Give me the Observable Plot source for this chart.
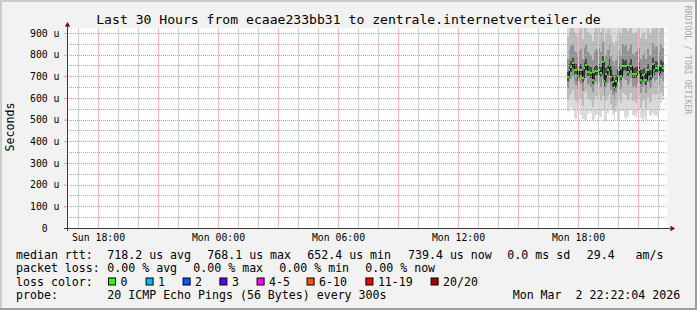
<!DOCTYPE html>
<html><head><meta charset="utf-8">
<script src="https://cdn.jsdelivr.net/npm/d3@7"></script>
<script src="https://cdn.jsdelivr.net/npm/@observablehq/plot@0.6"></script>
<style>
html,body{margin:0;padding:0;background:#f2f2f2;}
#wrap{position:relative;width:697px;height:310px;background:#f2f2f2;overflow:hidden;}
#wrap svg{position:absolute;left:0;top:0;}
</style></head><body><div id="wrap"></div>
<script>
// ---------- texts ----------
const title = "Last 30 Hours from ecaae233bb31 to zentrale.internetverteiler.de";
const yLabel = "Seconds";
const watermark = "RRDTOOL / TOBI OETIKER";

// ---------- axes ----------
const xDomainHours = [16.45, 46.45];           // hours since Sun 00:00 (Sun 16:27 -> Mon 22:27)
const xTickHours = [18, 24, 30, 36, 42];
const xTickLabels = ["Sun 18:00", "Mon 00:00", "Mon 06:00", "Mon 12:00", "Mon 18:00"];
const yMax = 923;
const yTicks = [0, 100, 200, 300, 400, 500, 600, 700, 800, 900];
const yTickLabels = ["0\u00a0\u00a0", "100 u", "200 u", "300 u", "400 u", "500 u", "600 u", "700 u", "800 u", "900 u"];

// ---------- samples (µs), one per 300 s, first at Mon 17:27 ----------
const firstSampleHour = 41.45;
const stepMinutes = 5;
const median = [697,730,745,761,730,730,700,727,727,694,737,752,721,721,715,684,718,724,724,727,715,768,678,712,727,749,697,675,652,680,703,727,703,749,746,746,718,735,749,712,712,712,720,730,684,705,712,684,727,697,700,755,727,740,740,718,746,739.4];
// smoke: inner (darkest) band
const smoke4Lo = [680,712,722,738,712,712,680,708,706,672,718,730,700,704,694,664,698,706,702,708,696,735,656,692,708,726,676,652,632,660,684,708,682,726,728,724,700,714,728,692,694,692,702,710,664,686,692,662,708,678,682,732,708,720,720,698,726,718];
const smoke4Hi = [722,758,772,785,756,755,728,752,756,724,764,778,748,746,742,712,745,752,750,756,744,795,710,738,754,778,728,704,684,708,732,755,732,780,772,776,748,762,778,740,740,742,750,760,716,734,740,714,756,728,730,786,756,770,768,748,776,766];
const smoke3Lo = [648,672,688,700,676,662,642,672,666,632,682,692,660,670,652,628,660,672,666,676,652,690,614,652,670,688,636,612,596,622,650,672,642,692,688,684,658,674,692,652,660,648,666,676,624,652,660,622,672,642,646,694,672,684,686,660,692,678];
const smoke3Hi = [780,820,840,850,815,812,790,815,825,782,832,845,810,805,800,775,810,825,815,830,810,860,770,800,820,850,795,770,752,775,795,820,800,850,840,845,815,830,850,805,800,810,820,830,780,800,810,780,825,795,800,855,820,840,835,810,850,830];
const smoke2Lo = [590,605,620,635,605,585,575,605,600,565,620,630,595,605,585,560,595,610,600,615,585,610,550,585,605,620,570,550,535,560,585,605,575,625,620,615,590,605,625,585,595,575,600,610,555,585,595,555,605,575,580,620,605,615,620,595,625,610];
const smoke2Hi = [880,910,945,950,905,900,880,910,925,870,930,950,905,895,890,865,905,925,910,930,905,950,860,895,915,945,890,860,840,865,890,915,895,950,935,945,910,925,950,900,895,905,915,930,875,895,905,870,920,890,895,950,915,935,930,905,945,925];
const smoke1Lo = [540,535,560,545,510,505,530,561,520,505,500,500,525,540,530,495,505,520,525,515,510,540,492,495,532,540,545,520,500,535,492,495,540,538,510,505,515,545,550,520,515,510,530,546,508,495,510,498,546,520,515,530,515,520,510,540,578,590];
const smoke1Hi = [950,950,950,950,950,950,950,950,950,950,950,950,950,950,950,950,950,950,950,950,950,950,950,950,950,950,950,950,950,950,950,950,950,950,950,950,950,950,950,950,950,950,950,950,950,950,950,950,950,950,950,950,950,950,950,950,950,950];

// ---------- legend ----------
const lossLabels = ["0", "1", "2", "3", "4-5", "6-10", "11-19", "20/20"];
const lossColors = ["#26ff00", "#00b8ff", "#0059ff", "#5e00ff", "#ff00ff", "#ff5500", "#ff0000", "#a10000"];
const rttLine = ["median rtt:", "718.2 us avg", "768.1 us max", "652.4 us min", "739.4 us now", "0.0 ms sd", "29.4   am/s"];
const lossLine = ["packet loss:", "0.00 % avg", "0.00 % max", "0.00 % min", "0.00 % now"];
const probeLine = ["probe:", "20 ICMP Echo Pings (56 Bytes) every 300s"];
const stamp = "Mon Mar  2 22:22:04 2026";

// ---------- table ----------
const stepH = stepMinutes / 60;
const rows = median.map((m, i) => ({
  t: firstSampleHour + i * stepH,
  t2: firstSampleHour + (i + 1) * stepH,
  m,
  a1: smoke1Lo[i], b1: smoke1Hi[i],
  a2: smoke2Lo[i], b2: smoke2Hi[i],
  a3: smoke3Lo[i], b3: smoke3Hi[i],
  a4: smoke4Lo[i], b4: smoke4Hi[i]
}));

const hoursAll = d3.range(Math.ceil(xDomainHours[0]), Math.floor(xDomainHours[1]) + 1);
const majorHours = hoursAll.filter(h => h % 3 === 0);
const minorHours = hoursAll.filter(h => h % 3 !== 0);
const majorY = yTicks.filter(v => v > 0);
const minorY = yTicks.map(v => v + 50).filter(v => v < yMax);

const gridMinor = "#a8a8a8", gridMajor = "#ff9090", axisCol = "#3a3a3a", arrowCol = "#7f0000";
const pxPerHour = 600 / (xDomainHours[1] - xDomainHours[0]);
const pxPerUnit = 200 / yMax;
const crisp = {shapeRendering: "crispEdges"};

const chart = Plot.plot({
  width: 697, height: 310,
  marginLeft: 67, marginRight: 30, marginTop: 28, marginBottom: 82,
  x: {domain: xDomainHours, axis: null},
  y: {domain: [0, yMax], axis: null},
  style: {background: "transparent", fontFamily: "'DejaVu Sans Mono', monospace", fontSize: "9.8px", color: "black", overflow: "visible"},
  marks: [
    Plot.frame({fill: "white", stroke: "none"}),
    Plot.rect(rows, {x1: "t", x2: "t2", y1: "a1", y2: "b1", fill: "#dadada", clip: true, ...crisp}),
    Plot.rect(rows, {x1: "t", x2: "t2", y1: "a2", y2: "b2", fill: "#bcbcbc", clip: true, ...crisp}),
    Plot.rect(rows, {x1: "t", x2: "t2", y1: "a3", y2: "b3", fill: "#939393", clip: true, ...crisp}),
    Plot.rect(rows, {x1: "t", x2: "t2", y1: "a4", y2: "b4", fill: "#4a4a4a", clip: true, ...crisp}),
    // grid: vertical lines solid in the averaged tone of a dotted pattern
    Plot.ruleX(minorHours, {x: d => d, stroke: "#d0d0d0", ...crisp}),
    Plot.ruleX(majorHours, {x: d => d, stroke: "#ffb8b8", ...crisp}),
    Plot.ruleY(minorY, {y: d => d, stroke: gridMinor, strokeDasharray: "1,1", ...crisp}),
    Plot.ruleY(majorY, {y: d => d, stroke: gridMajor, strokeDasharray: "1,1", ...crisp}),
    Plot.line(rows, {x: "t", y: "m", curve: "step-after", stroke: "black", strokeWidth: 1, clip: true}),
    Plot.rect(rows, {x1: "t", x2: "t2", y1: d => d.m - 4.6, y2: d => d.m + 4.6, fill: lossColors[0], ...crisp}),
    // y tick marks
    Plot.ruleY(majorY, {x1: xDomainHours[0] - 3 / pxPerHour, x2: xDomainHours[0], stroke: gridMajor}),
    // axes lines
    Plot.ruleY([0], {x1: xDomainHours[0] - 3 / pxPerHour, x2: xDomainHours[1] + 3 / pxPerHour, stroke: axisCol}),
    Plot.ruleX([xDomainHours[0]], {y1: -3 / pxPerUnit, y2: yMax + 3 / pxPerUnit, stroke: axisCol}),
    Plot.dot([{x: xDomainHours[1] + 4.5 / pxPerHour, y: 0}], {x: "x", y: "y", symbol: "triangle", r: 2, rotate: 90, fill: arrowCol, stroke: "none"}),
    Plot.dot([{x: xDomainHours[0], y: yMax + 3.5 / pxPerUnit}], {x: "x", y: "y", symbol: "triangle", r: 2, fill: arrowCol, stroke: "none"}),
    // tick labels
    Plot.axisX(xTickHours, {tickSize: 0, tickPadding: 5.5, tickFormat: d => xTickLabels[xTickHours.indexOf(d)], fill: "black"}),
    Plot.axisY(yTicks, {tickSize: 0, tickPadding: 8, tickFormat: d => yTickLabels[yTicks.indexOf(d)], fill: "black"})
  ]
});
document.getElementById("wrap").appendChild(chart);

// ---------- overlay: frame, title, legend ----------
const ov = d3.select("#wrap").append("svg")
  .attr("width", 697).attr("height", 310)
  .style("font-family", "'DejaVu Sans Mono', monospace")
  .style("pointer-events", "none");
ov.append("rect").attr("x", 0).attr("y", 0).attr("width", 697).attr("height", 2).attr("fill", "#cbcbcb");
ov.append("rect").attr("x", 0).attr("y", 0).attr("width", 2).attr("height", 310).attr("fill", "#cbcbcb");
ov.append("rect").attr("x", 0).attr("y", 308).attr("width", 697).attr("height", 2).attr("fill", "#9e9e9e");
ov.append("rect").attr("x", 695).attr("y", 0).attr("width", 2).attr("height", 310).attr("fill", "#9e9e9e");

function txt(s, x, y, size, opts = {}) {
  const t = ov.append("text").attr("x", x).attr("y", y)
    .attr("font-size", size).attr("fill", opts.fill || "black")
    .style("white-space", "pre").text(s);
  if (opts.anchor) t.attr("text-anchor", opts.anchor);
  if (opts.transform) t.attr("transform", opts.transform).attr("x", 0).attr("y", 0);
  return t;
}
txt(title, 348.5, 24, 13.1, {anchor: "middle"});
txt(yLabel, 0, 0, 11.6, {anchor: "middle", transform: "translate(14.3,127) rotate(-90)"});
txt(watermark, 0, 0, 8.2, {anchor: "middle", fill: "#a9a9a9", transform: "translate(684.6,60) rotate(90)"});

const FS = 11.6;
const lineY = [258.8, 272.2, 285.6, 299];
const rttX = [16, 107.3, 207.3, 307.3, 408, 507.3, 586.7];
rttLine.forEach((s, i) => txt(s, rttX[i], lineY[0], FS));
const lossX = [16, 107.3, 193.3, 279.3, 365.3];
lossLine.forEach((s, i) => txt(s, lossX[i], lineY[1], FS));
txt("loss color:", 16, lineY[2], FS);
const boxX = [108, 145.6, 182.6, 219.4, 256.6, 306.6, 365.4, 430.6];
lossLabels.forEach((s, i) => {
  ov.append("rect").attr("x", boxX[i] + 0.5).attr("y", lineY[2] - 7.6).attr("width", 7).attr("height", 7)
    .attr("fill", lossColors[i]).attr("stroke", "black").attr("stroke-width", 1);
  txt(s, boxX[i] + 12.5, lineY[2], FS);
});
txt(probeLine[0], 16, lineY[3], FS);
txt(probeLine[1], 107.3, lineY[3], FS);
txt(stamp, 512.7, lineY[3], FS);
</script></body></html>
